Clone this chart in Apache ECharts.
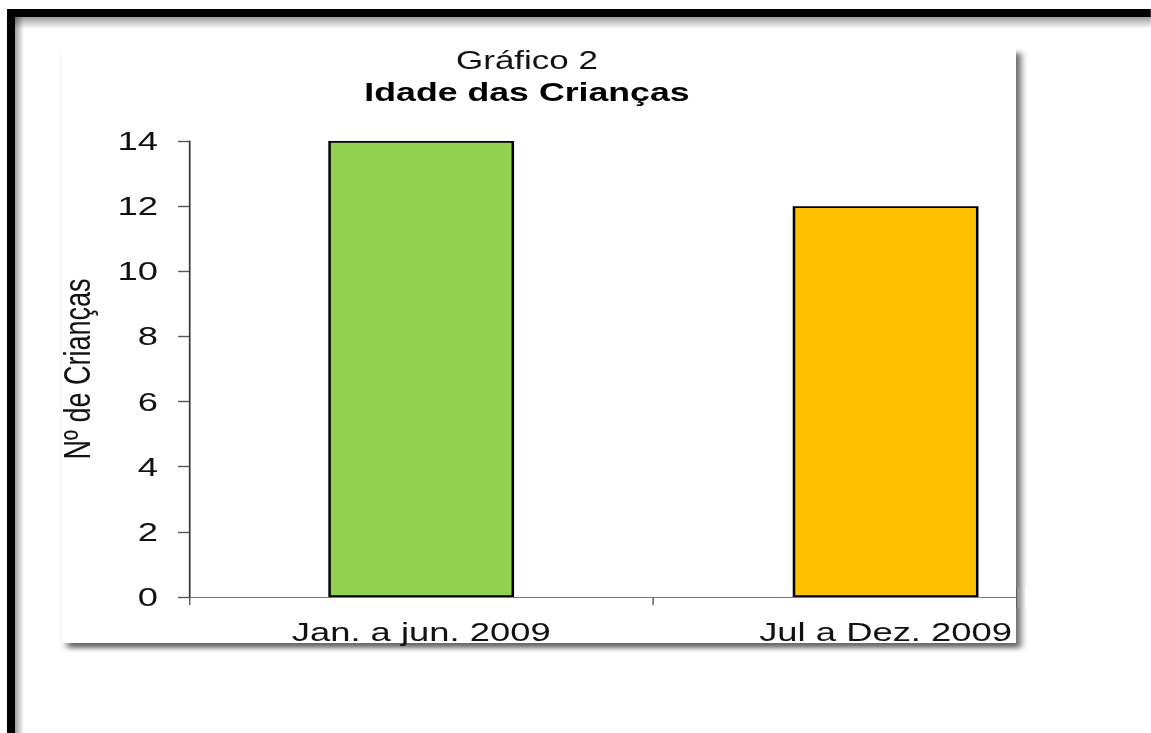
<!DOCTYPE html>
<html>
<head>
<meta charset="utf-8">
<title>Idade das Crianças</title>
<script src="https://cdn.jsdelivr.net/npm/echarts@6/dist/echarts.min.js"></script>
<style>
  html, body { margin: 0; padding: 0; background: #fff; overflow: hidden; }
  #wrap { position: absolute; left: 0; top: 0; width: 1151px; height: 733px; overflow: hidden; }
  #chart { position: absolute; left: 0; top: 0; height: 733px; transform-origin: 0 0; }
</style>
</head>
<body>
<div id="wrap"><div id="chart"></div></div>
<script>
// Data
const categories = ['Jan. a jun. 2009', 'Jul a Dez. 2009'];
const childCounts = [14, 12];
const barColors = ['#92D050', '#FFC000'];
const yMin = 0, yMax = 14, yStep = 2;
const titleLine1 = 'Gráfico 2';
const titleLine2 = 'Idade das Crianças';
const yAxisName = 'Nº de Crianças';

// The chart is laid out narrow and stretched horizontally by S
const S = 1.4;
const PAGE_W = 1151, PAGE_H = 733;
const X = px => px / S;   // screen x -> layout x

const el = document.getElementById('chart');
el.style.width = X(PAGE_W) + 'px';
el.style.transform = 'scaleX(' + S + ')';

const chart = echarts.init(el, null, { renderer: 'svg' });
const FONT = '"Liberation Sans", Arial, sans-serif';

// panel edges (screen px)
const PANEL = { left: 62, top: 48, right: 1016, bottom: 643 };

chart.setOption({
  backgroundColor: '#ffffff',
  animation: false,
  textStyle: { fontFamily: FONT },
  grid: {
    left: X(189),
    right: X(PAGE_W - 1118),
    top: 141,
    bottom: PAGE_H - 597,
    containLabel: false
  },
  xAxis: {
    type: 'category',
    data: categories,
    boundaryGap: true,
    axisLine: { show: true, lineStyle: { color: '#7a7a7a', width: 1.2 } },
    axisTick: { show: true, inside: false, length: 8, alignWithLabel: false,
                lineStyle: { color: '#555', width: 1 } },
    axisLabel: { color: '#111', fontSize: 26, fontFamily: FONT, margin: 22 },
    splitLine: { show: false }
  },
  yAxis: {
    type: 'value',
    min: yMin, max: yMax, interval: yStep,
    name: yAxisName,
    nameLocation: 'middle',
    nameGap: X(93),
    nameRotate: 90,
    nameTextStyle: { color: '#111', fontSize: 27, fontFamily: FONT },
    axisLine: { show: true, lineStyle: { color: '#333', width: 1.2 } },
    axisTick: { show: true, inside: false, length: X(11), lineStyle: { color: '#555', width: 1.4 } },
    axisLabel: { color: '#111', fontSize: 26, fontFamily: FONT, margin: X(31) },
    splitLine: { show: false }
  },
  series: [{
    type: 'bar',
    data: childCounts.map((v, i) => ({ value: v, itemStyle: { color: barColors[i] } })),
    barWidth: '40%',
    itemStyle: { borderColor: '#000', borderWidth: 1.8 },
    z: 2
  }],
  graphic: [
    // page frame (black rules with soft shading)
    { type: 'rect', z: -20, shape: { x: X(15), y: 17, width: X(PAGE_W), height: 12 },
      style: { fill: new echarts.graphic.LinearGradient(0, 0, 0, 1, [
        { offset: 0, color: 'rgba(0,0,0,0.38)' }, { offset: 1, color: 'rgba(0,0,0,0)' }]) } },
    { type: 'rect', z: -20, shape: { x: X(15), y: 17, width: X(9), height: PAGE_H },
      style: { fill: new echarts.graphic.LinearGradient(0, 0, 1, 0, [
        { offset: 0, color: 'rgba(0,0,0,0.38)' }, { offset: 1, color: 'rgba(0,0,0,0)' }]) } },
    { type: 'rect', z: -19, shape: { x: X(7), y: 9, width: X(PAGE_W), height: 8 },
      style: { fill: '#000' } },
    { type: 'rect', z: -19, shape: { x: X(7), y: 9, width: X(8), height: PAGE_H },
      style: { fill: '#000' } },
    // chart panel with drop shadow
    { type: 'rect', z: -10,
      shape: { x: X(PANEL.left), y: PANEL.top, width: X(PANEL.right - PANEL.left), height: PANEL.bottom - PANEL.top },
      style: { fill: '#fff', shadowColor: 'rgba(0,0,0,0.6)', shadowBlur: 5,
               shadowOffsetX: X(5), shadowOffsetY: 5 } },
    // page area right of the panel, over the axis run-out
    { type: 'rect', z: 100, shape: { x: X(PANEL.right + 0.5), y: 588, width: X(150), height: 20 },
      style: { fill: '#fff' } },
    // panel shadow strip redrawn over that area
    { type: 'rect', z: 101, shape: { x: X(PANEL.right), y: 588, width: X(10), height: 20 },
      style: { fill: new echarts.graphic.LinearGradient(0, 0, 1, 0, [
        { offset: 0, color: 'rgba(0,0,0,0.5)' }, { offset: 0.45, color: 'rgba(0,0,0,0.33)' },
        { offset: 1, color: 'rgba(0,0,0,0)' }]) } },
    // titles
    { type: 'text', z: 50, x: X(527), y: 60,
      style: { text: titleLine1, fill: '#111', fontSize: 25, fontFamily: FONT,
               textAlign: 'center', textVerticalAlign: 'middle' } },
    { type: 'text', z: 50, x: X(527), y: 92,
      style: { text: titleLine2, fill: '#000', fontSize: 25.5, fontWeight: 'bold', fontFamily: FONT,
               textAlign: 'center', textVerticalAlign: 'middle' } }
  ]
});
</script>
</body>
</html>
